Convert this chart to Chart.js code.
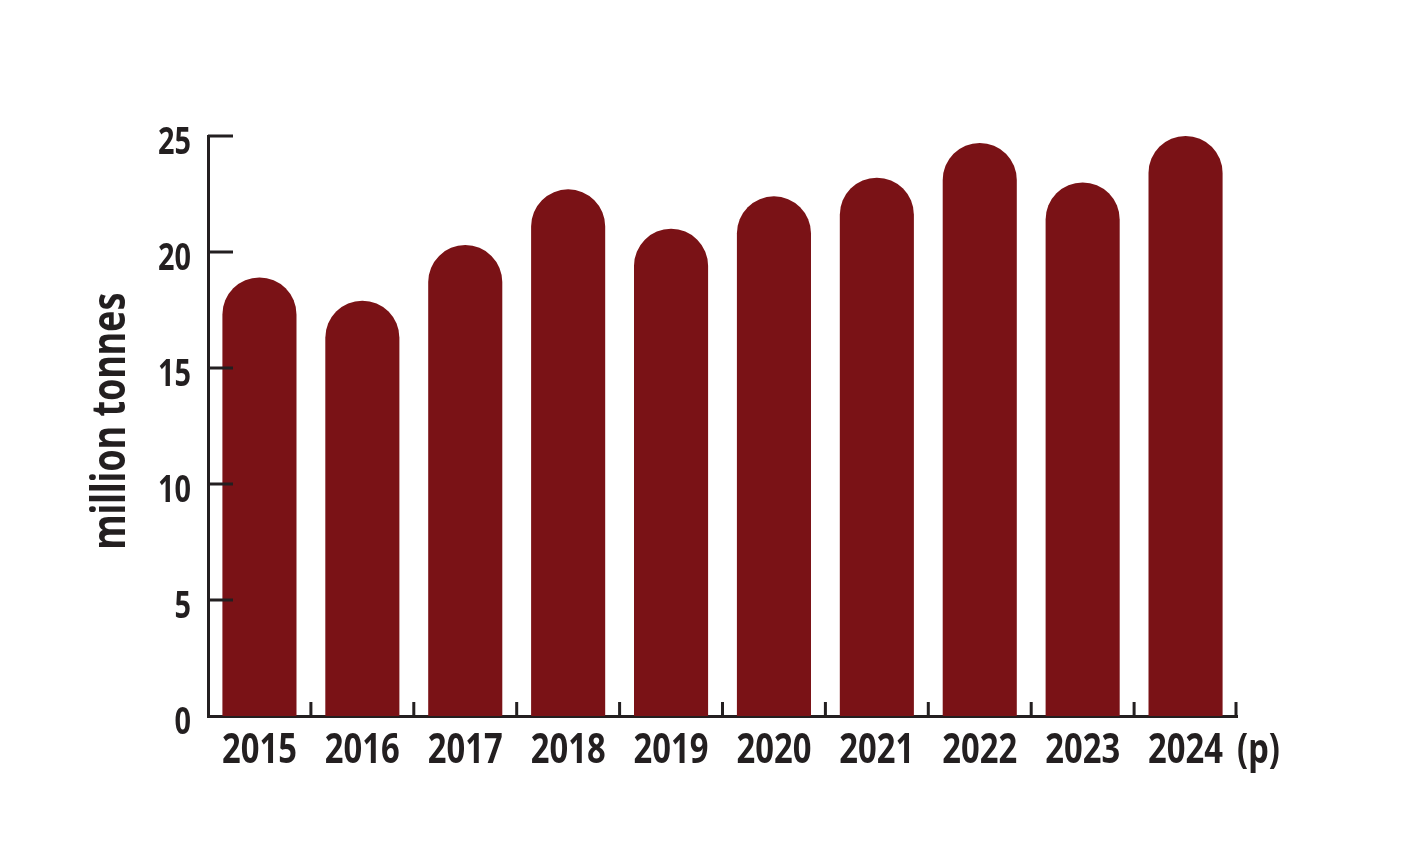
<!DOCTYPE html>
<html>
<head>
<meta charset="utf-8">
<script src="https://cdn.jsdelivr.net/npm/chart.js@4.4.1/dist/chart.umd.min.js"></script>
<style>
  html, body { margin: 0; padding: 0; background: #fff; }
  canvas { display: block; }
</style>
</head>
<body>
<canvas id="barChart" width="1424" height="863"></canvas>
<script>
// data
const years = ['2015', '2016', '2017', '2018', '2019', '2020', '2021', '2022', '2023', '2024'];
const tonnes = [18.9, 17.9, 20.3, 22.7, 21.0, 22.4, 23.2, 24.7, 23.0, 25.0];
const yTicks = [0, 5, 10, 15, 20, 25];
const provisionalMark = '(p)';
const yTitle = 'million tonnes';

const barColor = '#7a1216';
const axisColor = '#231f20';
const fontFamily = '"Noto Sans", "DejaVu Sans", sans-serif';
// no condensed face installed, so squeeze the bold text sideways
const squeeze = 0.78;

function narrowText(ctx, text, x, y, size, align) {
    ctx.save();
    ctx.font = 'bold ' + size + 'px ' + fontFamily;
    ctx.textAlign = align;
    ctx.textBaseline = 'alphabetic';
    ctx.translate(x, y);
    ctx.scale(squeeze, 1);
    ctx.fillText(text, 0, 0);
    const w = ctx.measureText(text).width * squeeze;
    ctx.restore();
    return w;
}

// axes details: inward y ticks, upward x ticks, labels and title
const axisMarks = {
    id: 'axisMarks',
    afterDraw(chart) {
        const ctx = chart.ctx;
        const x = chart.scales.x;
        const y = chart.scales.y;
        const area = chart.chartArea;
        ctx.save();
        ctx.strokeStyle = axisColor;
        ctx.lineWidth = 3;
        ctx.beginPath();
        y.ticks.forEach(t => {
            if (t.value === 0) return;
            const py = y.getPixelForValue(t.value);
            ctx.moveTo(area.left, py);
            ctx.lineTo(area.left + 25, py);
        });
        for (let i = 0; i < years.length; i++) {
            let px;
            if (i < years.length - 1) {
                px = (x.getPixelForValue(i) + x.getPixelForValue(i + 1)) / 2;
            } else {
                px = area.right - 1;
            }
            ctx.moveTo(px, area.bottom);
            ctx.lineTo(px, area.bottom - 14);
        }
        ctx.stroke();
        ctx.fillStyle = axisColor;

        // y tick labels
        y.ticks.forEach(t => {
            narrowText(ctx, String(t.value), area.left - 17, y.getPixelForValue(t.value) + 18, 37, 'right');
        });

        // x tick labels
        let lastRight = 0;
        years.forEach((label, i) => {
            const px = x.getPixelForValue(i);
            const w = narrowText(ctx, label, px, area.bottom + 47, 42, 'center');
            lastRight = px + w / 2;
        });
        narrowText(ctx, provisionalMark, lastRight + 14, area.bottom + 47, 42, 'left');

        // y title
        ctx.save();
        ctx.translate(125, (area.top + area.bottom) / 2 - 5);
        ctx.rotate(-Math.PI / 2);
        narrowText(ctx, yTitle, 0, 0, 46, 'center');
        ctx.restore();

        ctx.restore();
    }
};

new Chart(document.getElementById('barChart'), {
    type: 'bar',
    data: {
        labels: years,
        datasets: [{
            label: yTitle,
            data: tonnes,
            backgroundColor: barColor,
            borderWidth: 0,
            borderRadius: { topLeft: 37, topRight: 37, bottomLeft: 0, bottomRight: 0 },
            borderSkipped: 'bottom',
            barPercentage: 0.72,
            categoryPercentage: 1.0
        }]
    },
    options: {
        responsive: false,
        devicePixelRatio: 1,
        animation: false,
        layout: {
            padding: { left: 0, right: 187, top: 136, bottom: 0 }
        },
        plugins: {
            legend: { display: false },
            tooltip: { enabled: false }
        },
        scales: {
            x: {
                afterFit: scale => { scale.height = 147; },
                grid: { display: false, drawTicks: false },
                border: { display: true, color: axisColor, width: 3 },
                ticks: { display: false }
            },
            y: {
                min: 0,
                max: 25,
                afterFit: scale => { scale.width = 208; },
                afterBuildTicks: scale => {
                    scale.ticks = yTicks.map(v => ({ value: v }));
                },
                grid: { display: false, drawTicks: false },
                border: { display: true, color: axisColor, width: 3 },
                ticks: { display: false },
                title: { display: false }
            }
        }
    },
    plugins: [axisMarks]
});
</script>
</body>
</html>
